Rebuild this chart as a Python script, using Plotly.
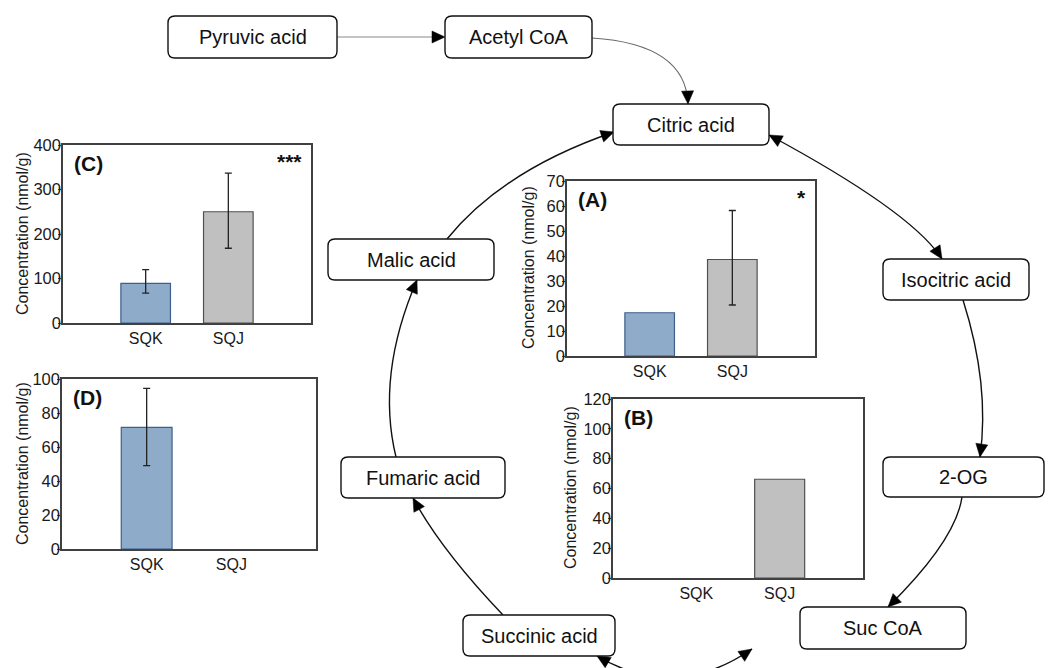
import plotly.graph_objects as go

# ---------------- data ----------------
categories = ["SQK", "SQJ"]

# (A) citric acid
a_values = [17.3, 38.6]
a_err_plus = [None, 19.6]
a_err_minus = [None, 18.2]

# (B) 2-OG
b_values = [0, 66.2]

# (C) malic acid
c_values = [89, 250]
c_err_plus = [31, 87]
c_err_minus = [22, 82]

# (D) fumaric acid
d_values = [71.5, 0]
d_err_plus = [23, None]
d_err_minus = [22.5, None]

significance = {"A": "*", "C": "***"}
y_title = "Concentration (nmol/g)"

node_names = ["Pyruvic acid", "Acetyl CoA", "Citric acid", "Isocitric acid", "2-OG",
              "Suc CoA", "Succinic acid", "Fumaric acid", "Malic acid"]

# ---------------- layout helpers ----------------
W, H = 1049, 668
FONT = "Liberation Sans, Arial, Helvetica, sans-serif"
BLUE, BLUE_EDGE = "#8eabc9", "#3f5f8c"
GRAY, GRAY_EDGE = "#c0c0c0", "#505050"
AX = "#404040"


def px(x):
    return x / W


def py(y):
    return 1 - y / H


def pt(x, y):
    return f"{px(x):.5f},{py(y):.5f}"


fig = go.Figure()

# panel geometry in pixels: (x0, x1, ytop, ybottom), y-title centre (x, y)
panels = {
    "C": dict(ax="", box=(63, 311, 145, 323), yr=[0, 400], dt=100, tpos=(22, 234),
              vals=c_values, ep=c_err_plus, em=c_err_minus),
    "D": dict(ax="2", box=(62, 316, 379, 549), yr=[0, 100], dt=20, tpos=(22, 464),
              vals=d_values, ep=d_err_plus, em=d_err_minus),
    "A": dict(ax="3", box=(567, 815, 181, 356), yr=[0, 70], dt=10, tpos=(529, 268),
              vals=a_values, ep=a_err_plus, em=a_err_minus),
    "B": dict(ax="4", box=(613, 863, 399, 578), yr=[0, 120], dt=20, tpos=(570, 488),
              vals=b_values, ep=[None, None], em=[None, None]),
}

layout_axes = {}
annotations = []
for key, p in panels.items():
    x0, x1, yt, yb = p["box"]
    sfx = p["ax"]
    xa, ya = "x" + sfx, "y" + sfx
    for i, cat in enumerate(categories):
        ep, em = p["ep"][i], p["em"][i]
        v = p["vals"][i]
        err = None
        if ep is not None:
            err = dict(type="data", symmetric=False, array=[ep], arrayminus=[em],
                       color="#222222", thickness=1.3, width=3.5)
        fig.add_trace(go.Bar(
            x=[cat], y=[v], xaxis=xa, yaxis=ya, width=0.6,
            marker=dict(color=BLUE if i == 0 else GRAY,
                        line=dict(color=BLUE_EDGE if i == 0 else GRAY_EDGE,
                                  width=1.2 if v > 0 else 0)),
            error_y=err, showlegend=False, hoverinfo="skip"))
    xname = "xaxis" + sfx
    yname = "yaxis" + sfx
    layout_axes[xname] = dict(
        domain=[px(x0), px(x1)], anchor=ya, type="category", range=[-1, 2],
        categoryorder="array", categoryarray=categories, automargin=False,
        showline=True, linecolor=AX, linewidth=1.5, mirror=True, ticks="",
        showgrid=False, zeroline=False,
        tickfont=dict(family=FONT, size=16, color="#1a1a1a"))
    layout_axes[yname] = dict(
        domain=[py(yb), py(yt)], anchor=xa, range=p["yr"], dtick=p["dt"],
        automargin=False,
        showline=True, linecolor=AX, linewidth=1.5, mirror=True,
        ticks="outside", ticklen=3, tickcolor=AX, tickwidth=1.2,
        ticklabelstandoff=-6,
        showgrid=False, zeroline=False,
        tickfont=dict(family=FONT, size=16.5, color="#1a1a1a"))
    # y-axis title (rotated text)
    tx, ty = p["tpos"]
    annotations.append(dict(
        text=y_title, xref="paper", yref="paper", x=px(tx), y=py(ty),
        xanchor="center", yanchor="middle", textangle=-90, showarrow=False,
        font=dict(family=FONT, size=16, color="#1a1a1a")))
    # panel label
    annotations.append(dict(
        text="<b>(%s)</b>" % key, xref=xa + " domain", yref=ya + " domain",
        x=0.035, y=0.97, xanchor="left", yanchor="top", showarrow=False,
        font=dict(family=FONT, size=21, color="#111111")))
    if key in significance:
        annotations.append(dict(
            text="<b>%s</b>" % significance[key], xref=xa + " domain", yref=ya + " domain",
            x=0.97, y=0.985, xanchor="right", yanchor="top", showarrow=False,
            font=dict(family=FONT, size=21, color="#111111")))

# ---------------- pathway diagram ----------------
boxes = {
    "Pyruvic acid": (168, 16, 337, 58),
    "Acetyl CoA": (445, 16, 592, 58),
    "Citric acid": (613, 104, 769, 145),
    "Isocitric acid": (883, 259, 1029, 300),
    "2-OG": (883, 457, 1044, 497),
    "Suc CoA": (800, 607, 966, 649),
    "Succinic acid": (463, 615, 615, 656),
    "Fumaric acid": (341, 457, 505, 498),
    "Malic acid": (328, 239, 494, 280),
}

shapes = []


def rounded_rect(x0, y0, x1, y1, r=7):
    d = (f"M {pt(x0 + r, y0)} L {pt(x1 - r, y0)} Q {pt(x1, y0)} {pt(x1, y0 + r)} "
         f"L {pt(x1, y1 - r)} Q {pt(x1, y1)} {pt(x1 - r, y1)} "
         f"L {pt(x0 + r, y1)} Q {pt(x0, y1)} {pt(x0, y1 - r)} "
         f"L {pt(x0, y0 + r)} Q {pt(x0, y0)} {pt(x0 + r, y0)} Z")
    return dict(type="path", path=d, xref="paper", yref="paper",
                line=dict(color="#111111", width=1.4), fillcolor="white", layer="above")


def arrowhead(tip, frm, L=13, w=6):
    tx, ty = tip
    dx, dy = tx - frm[0], ty - frm[1]
    n = (dx * dx + dy * dy) ** 0.5
    dx, dy = dx / n, dy / n
    bx, by = tx - L * dx, ty - L * dy
    p1 = (bx - w * dy, by + w * dx)
    p2 = (bx + w * dy, by - w * dx)
    d = f"M {pt(tx, ty)} L {pt(*p1)} L {pt(*p2)} Z"
    return dict(type="path", path=d, xref="paper", yref="paper",
                line=dict(color="black", width=0.5), fillcolor="black", layer="above")


def curve(p0, c, p2, color="#111111", width=1.4, head_end=True, head_start=False):
    d = f"M {pt(*p0)} Q {pt(*c)} {pt(*p2)}"
    out = [dict(type="path", path=d, xref="paper", yref="paper",
                line=dict(color=color, width=width), layer="above")]
    if head_end:
        out.append(arrowhead(p2, c))
    if head_start:
        out.append(arrowhead(p0, c))
    return out


# Pyruvic -> Acetyl CoA (straight, gray)
shapes.append(dict(type="line", x0=px(337), y0=py(37), x1=px(440), y1=py(37),
                   xref="paper", yref="paper", line=dict(color="#8a8a8a", width=1.2)))
shapes.append(arrowhead((445, 37), (337, 37)))
# Acetyl CoA -> Citric acid (gray curve)
shapes += curve((592, 38), (686, 44), (688, 104), color="#6a6a6a", width=1.1)
# Citric <-> Isocitric
shapes += curve((769, 135), (912, 212), (942, 259), head_start=True)
# Isocitric -> 2-OG
shapes += curve((963, 300), (990, 385), (980, 457))
# 2-OG -> Suc CoA
shapes += curve((962, 497), (956, 540), (888, 607))
# Succinic <-> Suc CoA (bottom arc)
shapes += curve((597, 656), (675, 702), (752, 649), head_start=True)
# Succinic -> Fumaric
shapes += curve((503, 615), (441, 550), (413, 498))
# Fumaric -> Malic
shapes += curve((396, 457), (376, 375), (417, 280))
# Malic -> Citric
shapes += curve((447, 239), (503, 170), (614, 132))

for name in node_names:
    x0, y0, x1, y1 = boxes[name]
    shapes.append(rounded_rect(x0, y0, x1, y1))
    annotations.append(dict(text=name, xref="paper", yref="paper",
                            x=px((x0 + x1) / 2), y=py((y0 + y1) / 2),
                            xanchor="center", yanchor="middle", showarrow=False,
                            font=dict(family=FONT, size=20, color="#111111")))

fig.update_layout(
    width=W, height=H, margin=dict(l=0, r=0, t=0, b=0, pad=0),
    paper_bgcolor="white", plot_bgcolor="white", barmode="overlay",
    showlegend=False, shapes=shapes, annotations=annotations,
    font=dict(family=FONT, color="#1a1a1a"),
    **layout_axes)

fig.write_html("out.html", config={"displayModeBar": False},
               post_script="document.body.style.margin='0px';"
                           "document.body.style.overflow='hidden';")
